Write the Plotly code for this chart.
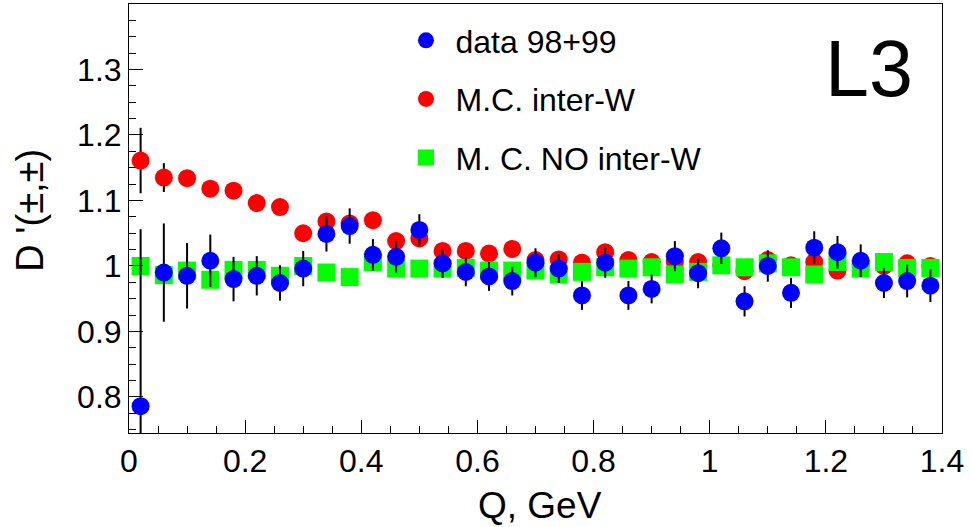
import plotly.graph_objects as go

# Q bin centres (GeV)
q = [0.02, 0.06, 0.10, 0.14, 0.18, 0.22, 0.26, 0.30, 0.34, 0.38, 0.42, 0.46,
     0.50, 0.54, 0.58, 0.62, 0.66, 0.70, 0.74, 0.78, 0.82, 0.86, 0.90, 0.94,
     0.98, 1.02, 1.06, 1.10, 1.14, 1.18, 1.22, 1.26, 1.30, 1.34, 1.38]

# data 98+99
data_y = [0.786, 0.990, 0.985, 1.008, 0.980, 0.985, 0.974, 0.996, 1.049, 1.061, 1.017, 1.014,
          1.055, 1.004, 0.991, 0.984, 0.977, 1.005, 0.996, 0.955, 1.005, 0.955, 0.965, 1.015,
          0.989, 1.027, 0.946, 1.000, 0.959, 1.028, 1.021, 1.008, 0.974, 0.977, 0.970]
data_err = [0.270, 0.075, 0.050, 0.040, 0.034, 0.030, 0.027, 0.027, 0.027, 0.027, 0.024, 0.024,
            0.024, 0.022, 0.022, 0.022, 0.022, 0.022, 0.022, 0.022, 0.023, 0.022, 0.022, 0.023,
            0.023, 0.024, 0.023, 0.024, 0.023, 0.025, 0.025, 0.025, 0.023, 0.025, 0.025]

# M.C. inter-W
mc_bec_y = [1.161, 1.135, 1.134, 1.118, 1.115, 1.096, 1.090, 1.050, 1.068, 1.065, 1.070, 1.038,
            1.042, 1.023, 1.023, 1.019, 1.026, 1.009, 1.010, 1.005, 1.021, 1.009, 1.006, 1.006,
            1.006, 1.001, 0.992, 1.009, 1.001, 1.006, 0.993, 1.002, 1.000, 1.004, 1.000]
mc_bec_err = [0.050, 0.022, 0.012, 0.006, 0.006, 0.005, 0.005, 0.005, 0.005, 0.005, 0.005, 0.005,
              0.005, 0.005, 0.005, 0.005, 0.005, 0.005, 0.005, 0.005, 0.005, 0.005, 0.005, 0.005,
              0.005, 0.005, 0.005, 0.005, 0.005, 0.005, 0.005, 0.005, 0.005, 0.005, 0.005]

# M. C. NO inter-W
mc_nobec_y = [1.000, 0.986, 0.993, 0.979, 0.994, 0.994, 0.985, 1.000, 0.990, 0.983, 1.006, 0.996,
              0.996, 0.996, 0.997, 0.993, 0.993, 0.993, 0.987, 0.991, 0.998, 0.996, 0.998, 0.987,
              0.991, 1.001, 0.998, 1.004, 0.998, 0.987, 1.006, 0.996, 1.006, 0.997, 0.997]

FONT = "Liberation Sans, Arial, sans-serif"

fig = go.Figure()

err_style = dict(type="data", thickness=2, width=0, color="black")

fig.add_trace(go.Scatter(
    x=q, y=mc_bec_y, mode="markers", name="M.C. inter-W", legendgroup="b",
    marker=dict(symbol="circle", size=18, color="#ff0000", line=dict(width=0)),
    error_y=dict(array=mc_bec_err, **err_style), legendrank=2,
))
fig.add_trace(go.Scatter(
    x=q, y=mc_nobec_y, mode="markers", name="M. C. NO inter-W", legendgroup="c",
    marker=dict(symbol="square", size=18, color="#00ff00", line=dict(width=0)),
    legendrank=3,
))
fig.add_trace(go.Scatter(
    x=q, y=data_y, mode="markers", name="data 98+99", legendgroup="a",
    marker=dict(symbol="circle", size=18, color="#0000ff", line=dict(width=0)),
    error_y=dict(array=data_err, **err_style), legendrank=1,
))

axis_common = dict(
    showgrid=False, zeroline=False, showline=True, linecolor="black", linewidth=1,
    mirror=True, ticks="inside", tickcolor="black", tickwidth=1,
    tickfont=dict(family=FONT, size=32, color="black"),
)

fig.update_xaxes(range=[0, 1.4], dtick=0.2, tick0=0, ticklen=13,
                 minor=dict(dtick=0.05, ticklen=7, ticks="inside", tickcolor="black", showgrid=False),
                 **axis_common)
fig.update_yaxes(range=[0.745, 1.4], dtick=0.1, tick0=0, ticklen=14,
                 minor=dict(dtick=0.025, ticklen=7, ticks="inside", tickcolor="black", showgrid=False),
                 **axis_common)

fig.add_annotation(text="Q, GeV", xref="paper", yref="paper", x=0.505, y=-0.17,
                   xanchor="center", yanchor="middle", showarrow=False,
                   font=dict(family=FONT, size=37, color="black"))
fig.add_annotation(text="D '(±,±)", xref="paper", yref="paper", x=-0.122, y=0.52,
                   xanchor="center", yanchor="middle", showarrow=False, textangle=-90,
                   font=dict(family=FONT, size=38, color="black"))
fig.add_annotation(text="L3", xref="paper", yref="paper", x=0.91, y=0.85,
                   xanchor="center", yanchor="middle", showarrow=False,
                   font=dict(family=FONT, size=79, color="black"))

fig.update_layout(
    width=971, height=527,
    margin=dict(l=129, r=29, t=4, b=94),
    paper_bgcolor="white", plot_bgcolor="white",
    showlegend=True,
    legend=dict(x=0.329, y=0.979, xanchor="left", yanchor="top",
                bgcolor="rgba(0,0,0,0)", borderwidth=0, itemwidth=49,
                font=dict(family=FONT, size=32, color="black"),
                traceorder="grouped", tracegroupgap=14),
)

fig.write_html("out.html")
